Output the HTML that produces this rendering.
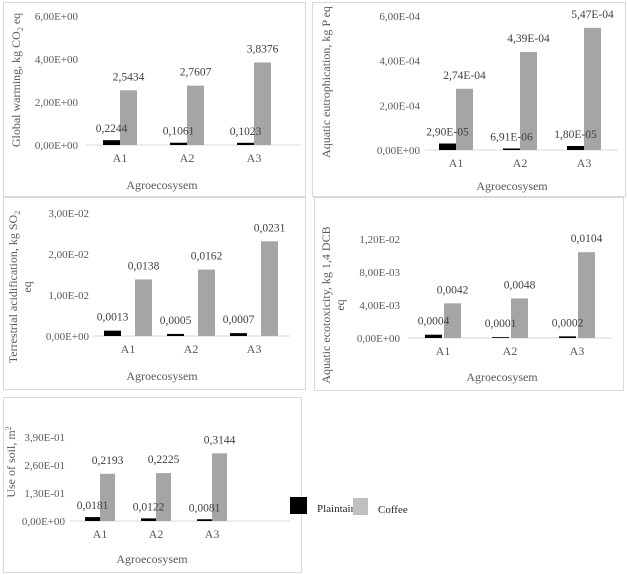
<!DOCTYPE html>
<html><head><meta charset="utf-8"><style>
body{margin:0;background:#fff;}
svg{display:block;font-family:"Liberation Serif",serif;}
</style></head><body>
<svg id="c" width="628" height="575"></svg>
<script>
const categories = ["A1","A2","A3"];
const gwPlantain = [0.2244,0.1061,0.1023];
const gwCoffee = [2.5434,2.7607,3.8376];
const gwLabelsP = ["0,2244","0,1061","0,1023"];
const gwLabelsC = ["2,5434","2,7607","3,8376"];
const gwTicks = [0,2,4,6];
const gwTickLabels = ["0,00E+00","2,00E+00","4,00E+00","6,00E+00"];
const euPlantain = [2.90e-5,6.91e-6,1.80e-5];
const euCoffee = [2.74e-4,4.39e-4,5.47e-4];
const euLabelsP = ["2,90E-05","6,91E-06","1,80E-05"];
const euLabelsC = ["2,74E-04","4,39E-04","5,47E-04"];
const euTicks = [0,2e-4,4e-4,6e-4];
const euTickLabels = ["0,00E+00","2,00E-04","4,00E-04","6,00E-04"];
const taPlantain = [0.0013,0.0005,0.0007];
const taCoffee = [0.0138,0.0162,0.0231];
const taLabelsP = ["0,0013","0,0005","0,0007"];
const taLabelsC = ["0,0138","0,0162","0,0231"];
const taTicks = [0,0.01,0.02,0.03];
const taTickLabels = ["0,00E+00","1,00E-02","2,00E-02","3,00E-02"];
const ecPlantain = [0.0004,0.0001,0.0002];
const ecCoffee = [0.0042,0.0048,0.0104];
const ecLabelsP = ["0,0004","0,0001","0,0002"];
const ecLabelsC = ["0,0042","0,0048","0,0104"];
const ecTicks = [0,0.004,0.008,0.012];
const ecTickLabels = ["0,00E+00","4,00E-03","8,00E-03","1,20E-02"];
const soPlantain = [0.0181,0.0122,0.0081];
const soCoffee = [0.2193,0.2225,0.3144];
const soLabelsP = ["0,0181","0,0122","0,0081"];
const soLabelsC = ["0,2193","0,2225","0,3144"];
const soTicks = [0,0.13,0.26,0.39];
const soTickLabels = ["0,00E+00","1,30E-01","2,60E-01","3,90E-01"];

const NS="http://www.w3.org/2000/svg";
const svg=document.getElementById('c');
function mk(tag,attrs,parent,text){const e=document.createElementNS(NS,tag);for(const k in attrs)e.setAttribute(k,attrs[k]);if(text!==undefined)e.textContent=text;(parent||svg).appendChild(e);return e;}

function chart(L,id,pv,cv,pl,cl,ticks,tickLabels,titleLines){
  const g=mk('g',{});
  
  
  const box=mk('rect',{x:L.bx,y:L.by,width:L.bw,height:L.bh,fill:'#fff',stroke:'#d9d9d9','stroke-width':1},g);
  
  
  const maxV=ticks[ticks.length-1];
  const y=v=>L.y0-(v/maxV)*(L.y0-L.yTop);
  const x=i=>L.cx0+i*L.step;
  ticks.forEach((t,i)=>{
    const tl=mk('text',{x:L.tickX,y:y(t)+4,'text-anchor':'end','font-size':11,fill:'#595959'},g,tickLabels[i]);
    
    
  });
  const ax=mk('line',{x1:L.ax0,x2:L.ax1,y1:L.y0,y2:L.y0,stroke:'#d9d9d9','stroke-width':1},g);
  
  
  categories.forEach((c,i)=>{
    const cx=x(i);
    const pb=mk('rect',{x:cx-L.gap/2-L.bw2,y:y(pv[i]),width:L.bw2,height:Math.max(0,L.y0-y(pv[i])),fill:'#000'},g);
    
    
    const cb=mk('rect',{x:cx+L.gap/2,y:y(cv[i]),width:L.bw2,height:Math.max(0,L.y0-y(cv[i])),fill:'#a5a5a5'},g);
    
    
    const plx=mk('text',{x:cx-L.gap/2-L.bw2/2,y:y(pv[i])-L.pOff,'text-anchor':'middle','font-size':11.5,fill:'#404040'},g,pl[i]);
    
    
    const clx=mk('text',{x:cx+L.gap/2+L.bw2/2,y:y(cv[i])-L.cOff,'text-anchor':'middle','font-size':11.5,fill:'#404040'},g,cl[i]);
    
    
    const cat=mk('text',{x:cx,y:L.y0+17,'text-anchor':'middle','font-size':12,fill:'#595959'},g,c);
    
    
  });
  const xt=mk('text',{x:L.xtX,y:L.xtY,'text-anchor':'middle','font-size':12,fill:'#595959'},g,'Agroecosysem');
  
  
  titleLines.forEach((tl,j)=>{
    const tx=L.ttX+j*14;
    const t=mk('text',{x:tx,y:L.ttY,'text-anchor':'middle','font-size':12,fill:'#595959',transform:`rotate(-90 ${tx} ${L.ttY})`},g);
    t.innerHTML=tl;
    
    
  });
}

chart({bx:3.5,by:2.5,bw:302,bh:194,y0:145,yTop:16,tickX:78,ax0:86,ax1:300,cx0:120,step:67,gap:0,bw2:17,pOff:8,cOff:10,xtX:162,xtY:189,ttX:20,ttY:80},
  'global-warming',gwPlantain,gwCoffee,gwLabelsP,gwLabelsC,gwTicks,gwTickLabels,
  ['Global warming, kg  CO<tspan font-size="8" dy="3">2</tspan><tspan dy="-3"> eq</tspan>']);
chart({bx:312.5,by:2.5,bw:313,bh:194,y0:150,yTop:16,tickX:420,ax0:425,ax1:618,cx0:456,step:64,gap:0,bw2:17,pOff:8,cOff:10,xtX:512,xtY:190,ttX:330,ttY:82},
  'aquatic-eutrophication',euPlantain,euCoffee,euLabelsP,euLabelsC,euTicks,euTickLabels,
  ['Aquatic eutrophication, kg P eq']);
chart({bx:3.5,by:197.5,bw:302,bh:192,y0:336,yTop:213,tickX:89,ax0:93,ax1:290,cx0:128,step:63,gap:14,bw2:17,pOff:10,cOff:10,xtX:162,xtY:380,ttX:17,ttY:287},
  'terrestrial-acidification',taPlantain,taCoffee,taLabelsP,taLabelsC,taTicks,taTickLabels,
  ['Terrestrial acidification, kg SO<tspan font-size="8" dy="3">2</tspan>','eq']);
chart({bx:314.5,by:197.5,bw:309,bh:193,y0:338,yTop:239,tickX:400,ax0:408,ax1:612,cx0:443,step:67,gap:2,bw2:17,pOff:10,cOff:10,xtX:502,xtY:381,ttX:330,ttY:305},
  'aquatic-ecotoxicity',ecPlantain,ecCoffee,ecLabelsP,ecLabelsC,ecTicks,ecTickLabels,
  ['Aquatic ecotoxicity, kg 1,4 DCB','eq']);
chart({bx:3.5,by:397.5,bw:298,bh:175,y0:521,yTop:437,tickX:65,ax0:70,ax1:290,cx0:100,step:56,gap:0,bw2:15,pOff:8,cOff:10,xtX:152,xtY:563,ttX:15,ttY:462},
  'use-of-soil',soPlantain,soCoffee,soLabelsP,soLabelsC,soTicks,soTickLabels,
  ['Use of soil, m<tspan font-size="8" dy="-4">2</tspan>']);

const lg=mk('g',{});


const l1=mk('rect',{x:290,y:497,width:17,height:17,fill:'#000'},lg);


const l1t=mk('text',{x:317,y:512,'font-size':11,fill:'#262626'},lg,'Plaintaino');


const l2=mk('rect',{x:353,y:498,width:15,height:17,fill:'#bfbfbf'},lg);


const l2t=mk('text',{x:378,y:513,'font-size':11,fill:'#262626'},lg,'Coffee');


</script>
</body></html>
